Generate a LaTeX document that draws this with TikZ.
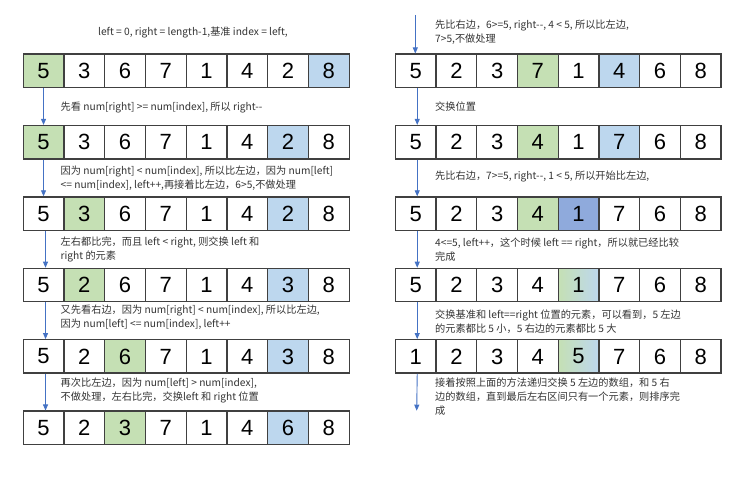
\documentclass[tikz,border=0pt]{standalone}
\usepackage{fontspec}
\setmainfont{Noto Sans CJK SC}
\newfontfamily\numfont{Liberation Sans}
\usetikzlibrary{arrows.meta}
\definecolor{cgreen}{HTML}{C5E0B4}
\definecolor{cblue}{HTML}{BDD7EE}
\definecolor{cdblue}{HTML}{8FAADC}
\definecolor{carrow}{HTML}{4472C4}
\definecolor{cborder}{HTML}{404040}
\definecolor{ctext}{HTML}{333333}
\begin{document}
\begin{tikzpicture}[x=1pt,y=-1pt,
  cell/.style={draw=cborder, line width=1.3pt, minimum width=40.75pt, minimum height=33.4pt,
    inner sep=0pt, anchor=north west, font=\numfont\fontsize{22}{22}\selectfont},
  cellw/.style={cell, fill=white},
  cellg/.style={cell, fill=cgreen},
  cellb/.style={cell, fill=cblue},
  celld/.style={cell, fill=cdblue},
  cellx/.style={cell, left color=cgreen, right color=cblue},
  note/.style={anchor=north west, inner sep=0pt, align=left, text=ctext,
    font=\fontsize{10.2}{14}\selectfont},
  flow/.style={draw=carrow, line width=0.9pt, -{Triangle[width=5pt,length=6pt]}}
]
\useasboundingbox (0,0) rectangle (756,478);

% left column
\foreach \v/\s [count=\i] in {5/g,3/w,6/w,7/w,1/w,4/w,2/w,8/b}
  \node[cell\s] (La\i) at ({22.5+(\i-1)*40.75},53.5) {\v};
\foreach \v/\s [count=\i] in {5/g,3/w,6/w,7/w,1/w,4/w,2/b,8/w}
  \node[cell\s] (Lb\i) at ({22.5+(\i-1)*40.75},124.9) {\v};
\foreach \v/\s [count=\i] in {5/w,3/g,6/w,7/w,1/w,4/w,2/b,8/w}
  \node[cell\s] (Lc\i) at ({22.5+(\i-1)*40.75},196.3) {\v};
\foreach \v/\s [count=\i] in {5/w,2/g,6/w,7/w,1/w,4/w,3/b,8/w}
  \node[cell\s] (Ld\i) at ({22.5+(\i-1)*40.75},267.7) {\v};
\foreach \v/\s [count=\i] in {5/w,2/w,6/g,7/w,1/w,4/w,3/b,8/w}
  \node[cell\s] (Le\i) at ({22.5+(\i-1)*40.75},339.1) {\v};
\foreach \v/\s [count=\i] in {5/w,2/w,3/g,7/w,1/w,4/w,6/b,8/w}
  \node[cell\s] (Lf\i) at ({22.5+(\i-1)*40.75},410.5) {\v};

% right column
\foreach \v/\s [count=\i] in {5/w,2/w,3/w,7/g,1/w,4/b,6/w,8/w}
  \node[cell\s] (Ra\i) at ({394.7+(\i-1)*40.7},53.5) {\v};
\foreach \v/\s [count=\i] in {5/w,2/w,3/w,4/g,1/w,7/b,6/w,8/w}
  \node[cell\s] (Rb\i) at ({394.7+(\i-1)*40.7},124.9) {\v};
\foreach \v/\s [count=\i] in {5/w,2/w,3/w,4/g,1/d,7/w,6/w,8/w}
  \node[cell\s] (Rc\i) at ({394.7+(\i-1)*40.7},196.3) {\v};
\foreach \v/\s [count=\i] in {5/w,2/w,3/w,4/w,1/x,7/w,6/w,8/w}
  \node[cell\s] (Rd\i) at ({394.7+(\i-1)*40.7},267.7) {\v};
\foreach \v/\s [count=\i] in {1/w,2/w,3/w,4/w,5/x,7/w,6/w,8/w}
  \node[cell\s] (Re\i) at ({394.7+(\i-1)*40.7},339.1) {\v};

% texts
\node[anchor=center, inner sep=0pt, text=ctext, font=\fontsize{10.2}{14}\selectfont] (title) at (193,32)
  {left = 0, right = length-1,基准 index = left,};
\node[note] (t1) at (60.5,101.8) {先看 num[right] >= num[index], 所以 right-{}-};
\node[note] (t2) at (60.5,165.5) {因为 num[right] < num[index], 所以比左边，因为 num[left]\\<= num[index], left++,再接着比左边，6>5,不做处理};
\node[note] (t3) at (60.5,236.2) {左右都比完，而且 left < right, 则交换 left 和\\right 的元素};
\node[note] (t4) at (60.5,305.2) {又先看右边，因为 num[right] < num[index], 所以比左边,\\因为 num[left] <= num[index], left++};
\node[note] (t5) at (60.5,377.8) {再次比左边，因为 num[left] > num[index],\\不做处理，左右比完，交换left 和 right 位置};

\node[note] (r1) at (435,19.5) {先比右边，6>=5, right-{}-, 4 < 5, 所以比左边,\\7>5,不做处理};
\node[note] (r2) at (435,101.8) {交换位置};
\node[note] (r3) at (435,171.2) {先比右边，7>=5, right-{}-, 1 < 5, 所以开始比左边,};
\node[note] (r4) at (435,237.8) {4<=5, left++，这个时候 left == right，所以就已经比较\\完成};
\node[note] (r5) at (435,309.5) {交换基准和 left==right 位置的元素，可以看到，5 左边\\的元素都比 5 小，5 右边的元素都比 5 大};
\node[note] (r6) at (435,377.8) {接着按照上面的方法递归交换 5 左边的数组，和 5 右\\边的数组，直到最后左右区间只有一个元素，则排序完\\成};

% arrows
\draw[flow] (La1.south) -- (Lb1.north);
\draw[flow] (Lb1.south) -- (Lc1.north);
\draw[flow] ([xshift=2pt]Lc1.south) -- ([xshift=2pt]Ld1.north);
\draw[flow] ([xshift=2pt]Ld1.south) -- ([xshift=2pt]Le1.north);
\draw[flow] ([xshift=2pt]Le1.south) -- ([xshift=2pt]Lf1.north);

\coordinate (rstart) at (415.3,15);
\coordinate (rend) at (416.7,410.7);
\draw[flow] (rstart) -- (rstart |- Ra1.north);
\draw[flow] ([xshift=1.5pt]Ra1.south) -- ([xshift=1.5pt]Rb1.north);
\draw[flow] ([xshift=1.5pt]Rb1.south) -- ([xshift=1.5pt]Rc1.north);
\draw[flow] ([xshift=1.5pt]Rc1.south) -- ([xshift=1.5pt]Rd1.north);
\draw[flow] ([xshift=1.5pt]Rd1.south) -- ([xshift=1.5pt]Re1.north);
\draw[flow] ([xshift=1.5pt]Re1.south) -- (rend);
\end{tikzpicture}
\end{document}
